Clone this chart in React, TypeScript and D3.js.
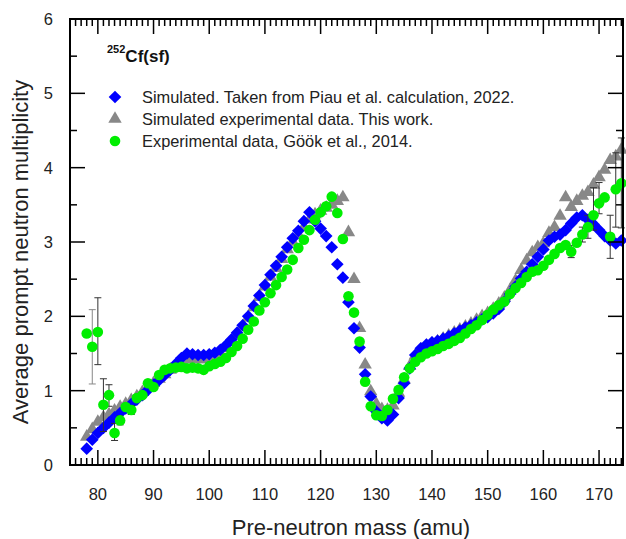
import React, { useEffect, useRef } from 'react';
import * as d3 from 'd3';

const W = 626;
const H = 539;
const left = 70, right = 623, top = 19, bottom = 465;

// mass numbers 78..174, one value per mass for each series
const masses = d3.range(78, 175);

const piau = [
  0.22, 0.34, 0.43, 0.50, 0.57, 0.64, 0.70, 0.76, 0.82, 0.88,
  0.94, 1.01, 1.08, 1.14, 1.21, 1.28, 1.36, 1.44, 1.50, 1.49,
  1.48, 1.48, 1.49, 1.51, 1.55, 1.61, 1.69, 1.78, 1.88, 2.00,
  2.14, 2.28, 2.42, 2.56, 2.68, 2.80, 2.93, 3.05, 3.15, 3.28,
  3.40, 3.28, 3.18, 3.08, 2.93, 2.70, 2.52, 2.19, 1.84, 1.58,
  1.22, 0.92, 0.72, 0.63, 0.60, 0.68, 0.90, 1.10, 1.30, 1.48,
  1.57, 1.62, 1.65, 1.67, 1.70, 1.73, 1.77, 1.81, 1.85, 1.88,
  1.92, 1.96, 1.99, 2.04, 2.10, 2.20, 2.30, 2.40, 2.51, 2.60,
  2.70, 2.80, 2.90, 3.02, 3.07, 3.10, 3.16, 3.25, 3.33, 3.36,
  3.30, 3.24, 3.16, 3.08, 3.02, 2.98, 3.02,
];

const thisWork = [
  0.38, 0.48, 0.58, 0.64, 0.68, 0.73, 0.78, 0.82, 0.87, 0.92,
  0.98, 1.04, 1.10, 1.16, 1.22, 1.28, 1.33, 1.38, 1.42, 1.42,
  1.42, 1.42, 1.43, 1.45, 1.50, 1.57, 1.65, 1.75, 1.86, 1.98,
  2.12, 2.26, 2.40, 2.53, 2.65, 2.77, 2.90, 3.00, 3.10, 3.20,
  3.30, 3.37, 3.42, 3.46, 3.50, 3.55, 3.60, 3.13, 2.50, 1.84,
  1.35, 0.99, 0.82, 0.75, 0.74, 0.80, 0.97, 1.15, 1.33, 1.47,
  1.55, 1.60, 1.63, 1.66, 1.70, 1.74, 1.78, 1.82, 1.86, 1.90,
  1.95, 2.00, 2.04, 2.10, 2.17, 2.25, 2.35, 2.48, 2.62, 2.75,
  2.86, 2.93, 2.98, 3.12, 3.20, 3.35, 3.60, 3.47, 3.55, 3.62,
  3.67, 3.77, 3.87, 3.97, 4.10, 4.15, 4.24,
];

const gook = [
  1.77, 1.59, 1.79, 0.81, 0.94, 0.43, 0.60, 0.78, 0.74, 0.90,
  0.94, 1.10, 1.05, 1.21, 1.28, 1.30, 1.31, 1.32, 1.30, 1.31,
  1.30, 1.28, 1.33, 1.36, 1.39, 1.44, 1.52, 1.60, 1.70, 1.82,
  1.93, 2.08, 2.19, 2.31, 2.42, 2.53, 2.63, 2.76, 2.92, 3.03,
  3.16, 3.30, 3.40, 3.48, 3.61, 3.39, 3.04, 2.27, 2.05, 1.66,
  1.12, 0.79, 0.67, 0.66, 0.74, 0.89, 1.01, 1.18, 1.30, 1.39,
  1.45, 1.50, 1.53, 1.56, 1.60, 1.63, 1.67, 1.71, 1.77, 1.83,
  1.88, 1.95, 2.02, 2.09, 2.15, 2.20, 2.30, 2.38, 2.45, 2.53,
  2.60, 2.62, 2.68, 2.76, 2.84, 2.92, 2.96, 2.87, 2.99, 3.10,
  3.20, 3.36, 3.52, 3.60, 3.07, 3.71, 3.79,
];

// error bars of the Göök points: mass, low, high
const errMass = [79, 80, 81, 82, 83, 84, 86, 165, 167, 168, 169, 170, 172, 173, 174];
const errLow = [1.09, 1.35, 0.45, 0.79, 0.33, 0.54, 0.68, 2.79, 3.0, 3.05, 3.16, 3.38, 2.78, 3.2, 3.19];
const errHigh = [2.09, 2.25, 1.16, 1.08, 0.56, 0.66, 0.8, 2.95, 3.2, 3.36, 3.73, 3.8, 3.36, 4.2, 4.4];

const legendLabels = [
  'Simulated. Taken from Piau et al. calculation, 2022.',
  'Simulated experimental data. This work.',
  'Experimental data, Göök et al., 2014.',
];

const font = '"Liberation Sans", Arial, sans-serif';

const App = () => {
  const ref = useRef<SVGSVGElement | null>(null);

  useEffect(() => {
    const svg = d3.select(ref.current);
    svg.selectAll('*').remove();

    const x = d3.scaleLinear().domain([75, 174.3]).range([left, right]);
    const y = d3.scaleLinear().domain([0, 6]).range([bottom, top]);

    const diamond = d3.symbol(d3.symbolSquare, 80)();
    const triangle = d3.symbol(d3.symbolTriangle, 78)();

    const plot = svg.append('g');

    // gray triangles
    plot.selectAll('path.tw')
      .data(masses)
      .enter()
      .append('path')
      .attr('d', triangle)
      .attr('fill', '#888888')
      .attr('transform', (m, i) => `translate(${x(m)},${y(thisWork[i])})`);

    // blue diamonds
    plot.selectAll('path.pi')
      .data(masses)
      .enter()
      .append('path')
      .attr('d', diamond)
      .attr('fill', '#0000ff')
      .attr('transform', (m, i) => `translate(${x(m)},${y(piau[i])}) rotate(45)`);

    // error bars
    const eb = plot.selectAll('g.eb')
      .data(errMass)
      .enter()
      .append('g')
      .attr('stroke', (m, i) => (i === 0 ? '#888888' : '#333333'))
      .attr('stroke-width', 1);
    eb.append('line')
      .attr('x1', m => x(m)).attr('x2', m => x(m))
      .attr('y1', (m, i) => y(errLow[i])).attr('y2', (m, i) => y(errHigh[i]));
    eb.append('line')
      .attr('x1', m => x(m) - 3.5).attr('x2', m => x(m) + 3.5)
      .attr('y1', (m, i) => y(errLow[i])).attr('y2', (m, i) => y(errLow[i]));
    eb.append('line')
      .attr('x1', m => x(m) - 3.5).attr('x2', m => x(m) + 3.5)
      .attr('y1', (m, i) => y(errHigh[i])).attr('y2', (m, i) => y(errHigh[i]));

    // green circles
    plot.selectAll('circle.gk')
      .data(masses)
      .enter()
      .append('circle')
      .attr('cx', m => x(m))
      .attr('cy', (m, i) => y(gook[i]))
      .attr('r', 5.3)
      .attr('fill', '#00ee00');

    // frame
    svg.append('rect')
      .attr('x', left).attr('y', top)
      .attr('width', right - left).attr('height', bottom - top)
      .attr('fill', 'none').attr('stroke', '#000').attr('stroke-width', 2);

    // ticks
    const ax = svg.append('g').attr('stroke', '#000').attr('stroke-width', 1.5);
    const xt = d3.range(76, 175);
    xt.forEach(v => {
      const len = v % 10 === 0 ? 15 : 7;
      ax.append('line').attr('x1', x(v)).attr('x2', x(v)).attr('y1', bottom).attr('y2', bottom - len);
      ax.append('line').attr('x1', x(v)).attr('x2', x(v)).attr('y1', top).attr('y2', top + len);
    });
    const yt = d3.range(0, 6.01, 0.5);
    yt.forEach(v => {
      const len = Number.isInteger(v) ? 15 : 7;
      ax.append('line').attr('x1', left).attr('x2', left + len).attr('y1', y(v)).attr('y2', y(v));
      ax.append('line').attr('x1', right).attr('x2', right - len).attr('y1', y(v)).attr('y2', y(v));
    });

    // tick labels
    const labels = svg.append('g').attr('font-family', font).attr('font-size', 16.5).attr('fill', '#222');
    x.ticks(10).filter(v => v >= 80 && v <= 170).forEach(v => {
      labels.append('text').attr('x', x(v)).attr('y', 500).attr('text-anchor', 'middle').text(v);
    });
    d3.range(0, 7).forEach(v => {
      labels.append('text').attr('x', 53).attr('y', y(v) + 6).attr('text-anchor', 'end').text(v);
    });

    // axis titles
    svg.append('text')
      .attr('x', 351).attr('y', 535)
      .attr('text-anchor', 'middle')
      .attr('font-family', font).attr('font-size', 22).attr('fill', '#222')
      .text('Pre-neutron mass (amu)');
    svg.append('text')
      .attr('transform', `translate(28,${(top + bottom) / 2 + 10}) rotate(-90)`)
      .attr('text-anchor', 'middle')
      .attr('font-family', font).attr('font-size', 22).attr('fill', '#222')
      .text('Average prompt neutron multiplicity');

    // reaction label
    const t = svg.append('text')
      .attr('x', 107).attr('y', 62)
      .attr('font-family', font).attr('font-weight', 'bold').attr('fill', '#111');
    t.append('tspan').attr('font-size', 11).attr('dy', -9).text('252');
    t.append('tspan').attr('font-size', 17).attr('dy', 9).text('Cf(sf)');

    // legend
    const lg = svg.append('g');
    const rows = [97, 119, 141];
    lg.append('path').attr('d', diamond).attr('fill', '#0000ff')
      .attr('transform', `translate(115,${rows[0]}) rotate(45)`);
    lg.append('path').attr('d', triangle).attr('fill', '#888888')
      .attr('transform', `translate(115,${rows[1]})`);
    lg.append('circle').attr('cx', 115).attr('cy', rows[2]).attr('r', 5.3).attr('fill', '#00ee00');
    legendLabels.forEach((s, i) => {
      lg.append('text')
        .attr('x', 142).attr('y', rows[i] + 6)
        .attr('font-family', font).attr('font-size', 16.4).attr('fill', '#222')
        .text(s);
    });
  }, []);

  return (
    <svg ref={ref} width={W} height={H}
      style={{ position: 'absolute', left: 0, top: 0, background: '#fff' }} />
  );
};

export default App;
